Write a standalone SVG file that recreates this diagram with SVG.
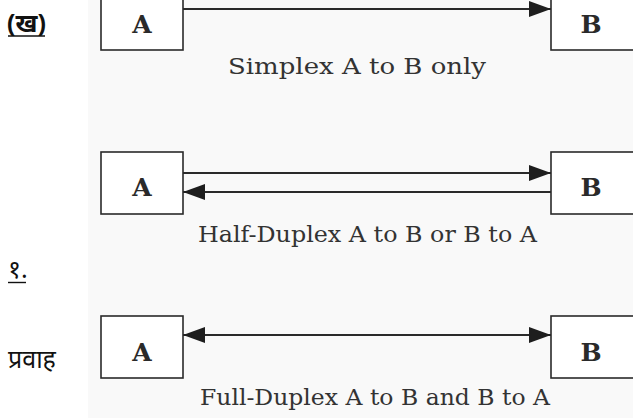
<svg xmlns="http://www.w3.org/2000/svg" width="633" height="418" viewBox="0 0 633 418">
  <style>
    .box { fill: #ffffff; stroke: #2a2a2a; stroke-width: 1.6; }
    .wire { stroke: #2a2a2a; stroke-width: 2; fill: none; }
    .node-label { font-family: "DejaVu Serif", "Liberation Serif", serif; font-size: 25px; font-weight: bold; fill: #2a2a2a; text-anchor: middle; }
    .caption { font-family: "DejaVu Serif", "Liberation Serif", serif; font-size: 22px; fill: #333333; }
    .side { font-family: "Noto Sans", "Lohit Devanagari", "Mangal", sans-serif; font-size: 25px; fill: #111111; }
  </style>
  <defs>
    <marker id="head" viewBox="0 0 22 18" refX="22" refY="9" markerWidth="22" markerHeight="18" markerUnits="userSpaceOnUse" orient="auto-start-reverse">
      <path d="M0,1 L22,9 L0,17 Z" fill="#1e1e1e"/>
    </marker>
  </defs>

  <!-- page background and tinted diagram panel -->
  <rect x="0" y="0" width="633" height="418" fill="#ffffff"/>
  <rect x="88" y="0" width="545" height="418" fill="#f9f9f9"/>

  <!-- side labels -->
  <g id="label-kha">
    <text class="side" x="7" y="32" font-weight="bold">(ख)</text>
    <line x1="8" y1="36" x2="45" y2="36" stroke="#111" stroke-width="1.4"/>
  </g>
  <g id="label-one">
    <text class="side" x="8" y="278">१.</text>
    <line x1="8" y1="282.5" x2="26" y2="282.5" stroke="#111" stroke-width="1.4"/>
  </g>
  <g id="label-pravah">
    <text class="side" x="8" y="368">प्रवाह</text>
  </g>

  <!-- connectors -->
  <g id="connectors">
    <!-- simplex: A to B -->
    <line class="wire" x1="183" y1="9" x2="551" y2="9" marker-end="url(#head)"/>
    <!-- half-duplex: two one-way lines -->
    <line class="wire" x1="183" y1="173" x2="551" y2="173" marker-end="url(#head)"/>
    <line class="wire" x1="551" y1="192" x2="183" y2="192" marker-end="url(#head)"/>
    <!-- full-duplex: one two-way line -->
    <line class="wire" x1="183" y1="335" x2="551" y2="335" marker-start="url(#head)" marker-end="url(#head)"/>
  </g>

  <!-- simplex row -->
  <g id="simplex-a">
    <rect class="box" x="101" y="-10" width="82" height="60"/>
    <text class="node-label" x="142" y="33">A</text>
  </g>
  <g id="simplex-b">
    <rect class="box" x="551" y="-10" width="100" height="60"/>
    <text class="node-label" x="591" y="33">B</text>
  </g>
  <text class="caption" x="228" y="74" textLength="258" lengthAdjust="spacingAndGlyphs">Simplex A to B only</text>

  <!-- half-duplex row -->
  <g id="half-a">
    <rect class="box" x="101" y="152" width="82" height="62"/>
    <text class="node-label" x="142" y="196">A</text>
  </g>
  <g id="half-b">
    <rect class="box" x="551" y="152" width="100" height="62"/>
    <text class="node-label" x="591" y="196">B</text>
  </g>
  <text class="caption" x="198" y="242" textLength="339" lengthAdjust="spacingAndGlyphs">Half-Duplex A to B or B to A</text>

  <!-- full-duplex row -->
  <g id="full-a">
    <rect class="box" x="101" y="316" width="82" height="62"/>
    <text class="node-label" x="142" y="361">A</text>
  </g>
  <g id="full-b">
    <rect class="box" x="551" y="316" width="100" height="62"/>
    <text class="node-label" x="591" y="361">B</text>
  </g>
  <text class="caption" x="200" y="405" textLength="350" lengthAdjust="spacingAndGlyphs">Full-Duplex A to B and B to A</text>
</svg>
